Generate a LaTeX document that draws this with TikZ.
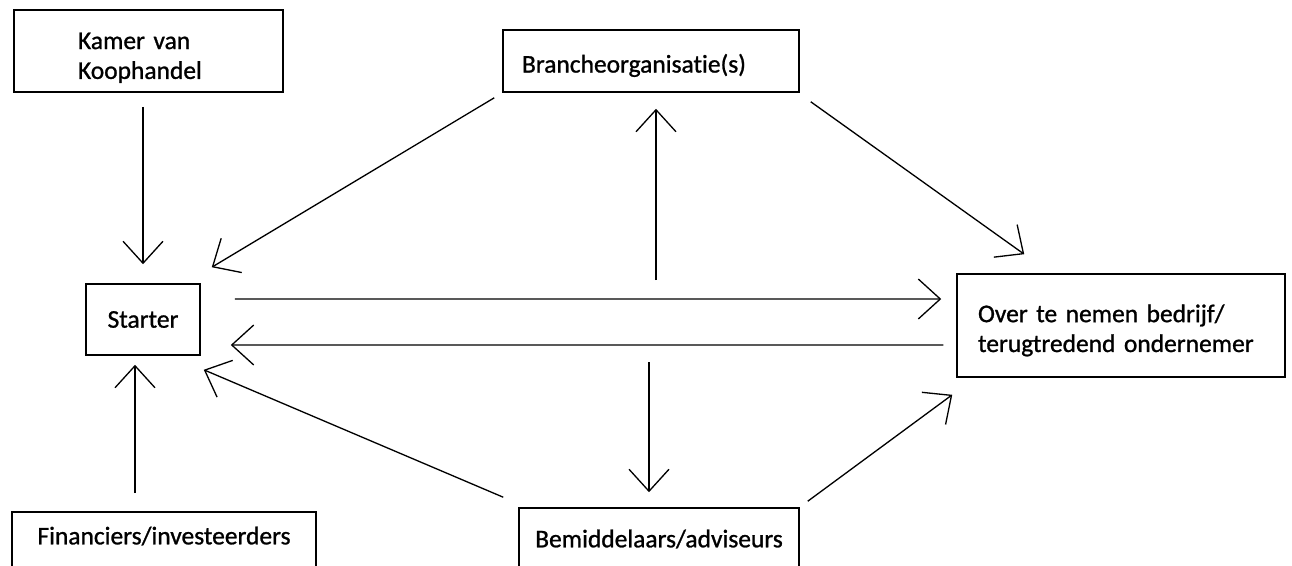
\documentclass[tikz,border=0pt]{standalone}
\usepackage{fontspec}
\setmainfont{Carlito}[Ligatures=NoCommon, FakeBold=1]
\usetikzlibrary{arrows.meta}

\begin{document}
\begin{tikzpicture}[
  x=0.02cm, y=-0.02cm,
  actorbox/.style={draw, line width=0.9pt, inner sep=0pt, font=\fontsize{14.5pt}{17pt}\selectfont, align=center},
  arr/.style={-{Straight Barb[length=0.44cm, width=0.8cm]}, line width=0.75pt}
]
\useasboundingbox[fill=white] (0,0) rectangle (1292,565);

\node[actorbox, minimum width=5.38cm, minimum height=1.64cm, text width=2.82cm, align=left, text height=0.6cm] (kvk) at (148.5,51) {Kamer van\\Koophandel};
\node[actorbox, minimum width=2.28cm, minimum height=1.42cm] (starter) at (143,319.5) {Starter};
\node[actorbox, minimum width=5.92cm, minimum height=1.24cm, text width=5.16cm, align=left, text height=0.55cm] (branche) at (651,61) {Brancheorganisatie(s)};
\node[actorbox, minimum width=6.56cm, minimum height=2.06cm, text width=5.72cm, align=left, text height=0.55cm] (bedrijf) at (1121,325.5) {Over te nemen bedrijf/\\terugtredend ondernemer};
\node[actorbox, minimum width=6.08cm, minimum height=1.24cm, text depth=0.3cm] (fin) at (164,543) {Financiers/investeerders};
\node[actorbox, minimum width=5.6cm, minimum height=1.24cm] (bem) at (659,539) {Bemiddelaars/adviseurs};

\coordinate (splitup) at (656,280);
\coordinate (splitdown) at (649,362);

\draw[arr] ([yshift=-0.28cm]kvk.south -| starter.north) -- ([yshift=0.38cm]starter.north);
\draw[arr] ([xshift=-0.16cm, yshift=-0.1cm]branche.south west) -- ([xshift=0.22cm, yshift=0.32cm]starter.north east);
\draw[arr] ([xshift=0.22cm, yshift=-0.18cm]branche.south east) -- ([xshift=1.36cm, yshift=0.38cm]bedrijf.north west);
\draw[arr] ([xshift=0.68cm, yshift=0.41cm]starter.east) -- ([xshift=-0.3cm, yshift=0.53cm]bedrijf.west);
\draw[arr] ([xshift=-0.26cm, yshift=-0.39cm]bedrijf.west) -- ([xshift=0.6cm, yshift=-0.51cm]starter.east);
\draw[arr] (splitup) -- ([yshift=-0.32cm]splitup |- branche.south);
\draw[arr] (splitdown) -- ([yshift=0.3cm]splitdown |- bem.north);
\draw[arr] ([xshift=-0.3cm, yshift=0.2cm]bem.north west) -- ([xshift=0.06cm, yshift=-0.28cm]starter.south east);
\draw[arr] ([xshift=0.16cm, yshift=0.12cm]bem.north east) -- ([xshift=-0.08cm, yshift=-0.34cm]bedrijf.south west);
\draw[arr] ([xshift=-0.16cm, yshift=0.36cm]starter.south |- fin.north) -- ([xshift=-0.16cm, yshift=-0.18cm]starter.south);

\end{tikzpicture}
\end{document}
